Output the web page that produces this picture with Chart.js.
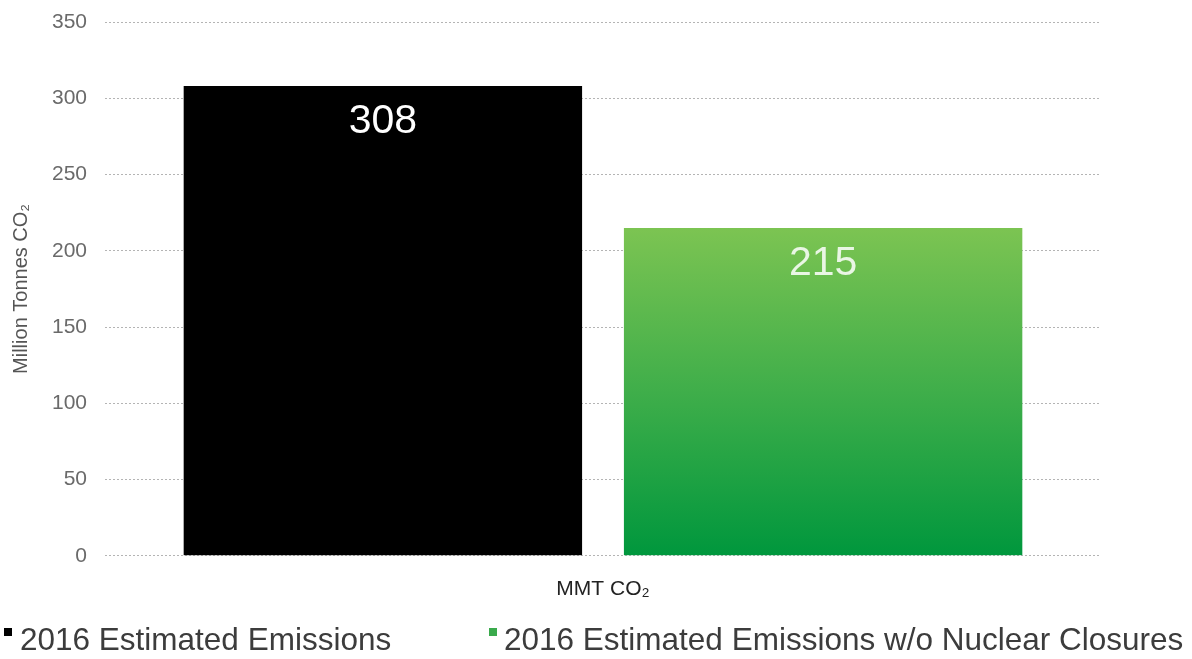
<!DOCTYPE html>
<html>
<head>
<meta charset="utf-8">
<script src="https://cdn.jsdelivr.net/npm/chart.js@4/dist/chart.umd.min.js"></script>
<style>
  html, body { margin: 0; padding: 0; background: #ffffff; }
  #wrap { width: 1192px; height: 659px; position: relative; }
</style>
</head>
<body>
<div id="wrap"><canvas id="c" width="1192" height="659"></canvas></div>
<script>
// ---- data ----
const categories = ['MMT CO\u2082'];
const seriesLabels = ['2016 Estimated Emissions', '2016 Estimated Emissions w/o Nuclear Closures'];
const estimatedEmissions = [308];
const withoutNuclearClosures = [215];
const yTicks = [0, 50, 100, 150, 200, 250, 300, 350];
const yTitle = 'Million Tonnes CO\u2082';

const FONT = "'Liberation Sans', Arial, 'DejaVu Sans', sans-serif";

function greenGradient(context) {
  const chart = context.chart;
  const { ctx, chartArea, scales } = chart;
  if (!chartArea) return '#3aaa4a';
  const top = scales.y.getPixelForValue(withoutNuclearClosures[0]);
  const bottom = scales.y.getPixelForValue(0);
  const g = ctx.createLinearGradient(0, top, 0, bottom);
  g.addColorStop(0, '#7cc452');
  g.addColorStop(0.5, '#3fae4a');
  g.addColorStop(1, '#00973d');
  return g;
}

const valueLabels = {
  id: 'valueLabels',
  afterDatasetsDraw(chart) {
    const ctx = chart.ctx;
    ctx.save();
    ctx.font = '41px ' + FONT;
    ctx.textAlign = 'center';
    ctx.textBaseline = 'middle';
    const colors = ['#ffffff', '#e9f6e4'];
    chart.data.datasets.forEach((ds, i) => {
      const meta = chart.getDatasetMeta(i);
      meta.data.forEach((el, j) => {
        ctx.fillStyle = colors[i];
        ctx.fillText(String(ds.data[j]), el.x, el.y + 36);
      });
    });
    ctx.restore();
  }
};

const bottomLegend = {
  id: 'bottomLegend',
  afterDraw(chart) {
    const ctx = chart.ctx;
    const items = [
      { boxX: 4, textX: 20 },
      { boxX: 489, textX: 504 }
    ];
    const swatch = ['#000000', '#3aaa4c'];
    ctx.save();
    ctx.font = '31.5px ' + FONT;
    ctx.textAlign = 'left';
    ctx.textBaseline = 'alphabetic';
    chart.data.datasets.forEach((ds, i) => {
      const it = items[i];
      ctx.fillStyle = swatch[i];
      ctx.fillRect(it.boxX, 628, 8, 8);
      ctx.fillStyle = '#3c3c3c';
      ctx.fillText(ds.label, it.textX, 650);
    });
    ctx.restore();
  }
};

new Chart(document.getElementById('c'), {
  type: 'bar',
  data: {
    labels: categories,
    datasets: [
      {
        label: seriesLabels[0],
        data: estimatedEmissions,
        backgroundColor: '#000000',
        borderWidth: 0,
        categoryPercentage: 0.884,
        barPercentage: 0.905
      },
      {
        label: seriesLabels[1],
        data: withoutNuclearClosures,
        backgroundColor: greenGradient,
        borderWidth: 0,
        categoryPercentage: 0.884,
        barPercentage: 0.905
      }
    ]
  },
  options: {
    responsive: false,
    animation: false,
    devicePixelRatio: 1,
    layout: { padding: { top: 22, right: 91, bottom: 36, left: 0 } },
    plugins: {
      legend: { display: false },
      tooltip: { enabled: false }
    },
    scales: {
      x: {
        grid: { display: false, drawTicks: false },
        border: { display: false },
        ticks: {
          padding: 21,
          color: '#222222',
          font: { family: FONT, size: 21 }
        }
      },
      y: {
        min: yTicks[0],
        max: yTicks[yTicks.length - 1],
        afterBuildTicks(scale) {
          scale.ticks = yTicks.map(v => ({ value: v }));
        },
        afterFit(scale) {
          scale.width = 105;
          scale.paddingTop = 0;
          scale.paddingBottom = 0;
        },
        grid: {
          color: '#b4b4b4',
          lineWidth: 1,
          drawTicks: false
        },
        border: { display: false, dash: [2, 2] },
        ticks: {
          padding: 18,
          color: '#6a6a6a',
          font: { family: FONT, size: 21 }
        },
        title: {
          display: true,
          text: yTitle,
          color: '#555555',
          font: { family: FONT, size: 20 },
          padding: { top: 9, bottom: 4 }
        }
      }
    }
  },
  plugins: [valueLabels, bottomLegend]
});
</script>
</body>
</html>
